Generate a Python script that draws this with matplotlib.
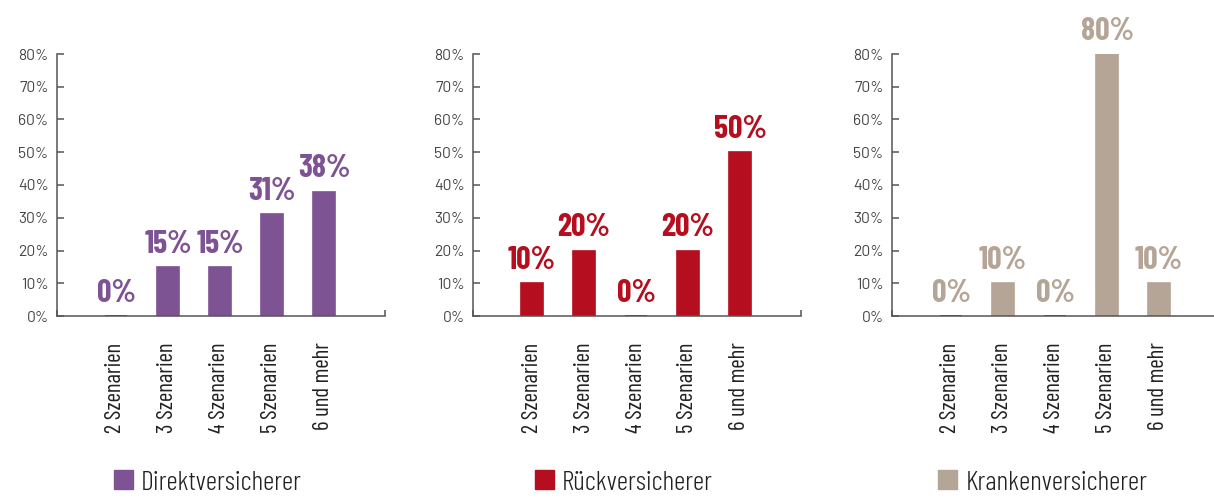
import matplotlib
matplotlib.use("Agg")
import matplotlib.pyplot as plt
import matplotlib.patches as mpatches
from matplotlib.ticker import FixedLocator

# data
categories = ["2 Szenarien", "3 Szenarien", "4 Szenarien", "5 Szenarien", "6 und mehr"]
direkt = [0, 15, 15, 31, 38]
rueck = [10, 20, 0, 20, 50]
kranken = [0, 10, 0, 80, 10]
names = ["Direktversicherer", "Rückversicherer", "Krankenversicherer"]
colors = ["#7E5393", "#B40E1F", "#B5A596"]
yticks = [0, 10, 20, 30, 40, 50, 60, 70, 80]

cond = ["Barlow Condensed", "DejaVu Sans"]
plain = ["Barlow", "DejaVu Sans"]
W, H = 1214, 501
fig = plt.figure(figsize=(W / 100, H / 100), dpi=100)

lefts = [57, 473, 892]
ax_w, ax_h = 328, 262
ax_bottom = 316

for left, vals, name, col in zip(lefts, [direkt, rueck, kranken], names, colors):
    ax = fig.add_axes([left / W, (H - ax_bottom) / H, ax_w / W, ax_h / H])
    x = list(range(len(categories)))
    edges = ["#3a3a3a" if v == 0 else col for v in vals]
    ax.bar(x, vals, width=0.42, color=col, edgecolor=edges, linewidth=1.2, zorder=2)
    for xi, v in zip(x, vals):
        ax.annotate(f"{v}%", (xi, v), xytext=(0, 6), textcoords="offset points",
                    ha="center", va="bottom", fontsize=23, fontweight="bold",
                    color=col, family=cond)
    x0 = -59 / 52
    ax.set_xlim(x0, x0 + ax_w / 52)
    ax.set_ylim(0, 80)
    ax.set_yticks(yticks)
    ax.set_yticklabels([f"{t}%" for t in yticks], fontsize=11.3, color="#444444",
                       family=plain)
    ax.tick_params(axis="y", direction="in", length=5, width=1.1, color="#555555", pad=6)
    ax.set_xticks(x)
    ax.set_xticklabels(categories, rotation=90, fontsize=16.5, color="#222222",
                       family=cond, va="top", ha="center")
    ax.tick_params(axis="x", length=0, pad=19)
    ax.xaxis.set_minor_locator(FixedLocator(ax.get_xlim()))
    ax.tick_params(axis="x", which="minor", direction="in", length=4, width=1.1,
                   color="#555555")
    for s in ["top", "right"]:
        ax.spines[s].set_visible(False)
    for s in ["left", "bottom"]:
        ax.spines[s].set_color("#555555")
        ax.spines[s].set_linewidth(1.1)
    handle = mpatches.Patch(color=col)
    ax.legend([handle], [name], loc="center", bbox_to_anchor=(0.5 - 13 / ax_w, -0.635),
              frameon=False, prop={"family": cond, "size": 20, "weight": 300},
              handlelength=0.68, handleheight=0.68, handletextpad=0.3,
              borderpad=0, labelcolor="#222222")

fig.savefig("out.png", dpi=100)
